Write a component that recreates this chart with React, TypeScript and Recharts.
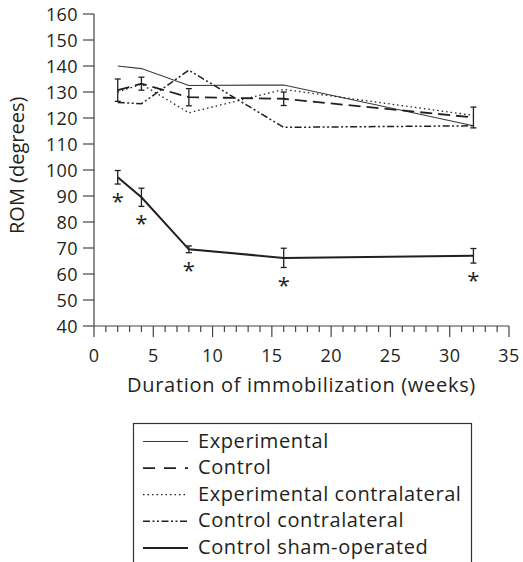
import React from "react";
import {
  LineChart,
  Line,
  XAxis,
  YAxis,
  ErrorBar,
  LabelList,
} from "recharts";

const weeks = [2, 4, 8, 16, 32];
const experimental = [140, 139, 132.5, 132.7, 117];
const control = [130.7, 133.2, 128, 127.4, 120.2];
const controlErr = [4.3, 2.5, 3.3, 2.6, 4];
const expContra = [130, 133, 122, 131, 121];
const ctrlContra = [126, 125.5, 138.4, 116.4, 117];
const sham = [97.2, 89.5, 69.5, 66.2, 67];
const shamErr = [2.6, 3.5, 1.3, 3.7, 2.8];

const yTicks = [40, 50, 60, 70, 80, 90, 100, 110, 120, 130, 140, 150, 160];
const xTicks = Array.from({ length: 36 }, (_, i) => i);

const FONT = "'Open Sans', sans-serif";
const INK = "#231f20";

const data = weeks.map((w, i) => ({
  week: w,
  experimental: experimental[i],
  control: control[i],
  controlErr: controlErr[i],
  expContra: expContra[i],
  ctrlContra: ctrlContra[i],
  sham: sham[i],
  shamErr: shamErr[i],
  shamLow: sham[i] - shamErr[i],
}));

const series = [
  { key: "experimental", name: "Experimental", width: 1.1, dash: undefined, color: "#3a3a3a" },
  { key: "control", name: "Control", width: 1.8, dash: "12 6", color: INK },
  { key: "expContra", name: "Experimental contralateral", width: 1.3, dash: "1.5 3", color: INK },
  { key: "ctrlContra", name: "Control contralateral", width: 1.5, dash: "7 2.5 2 2.5 2 2.5", color: INK },
  { key: "sham", name: "Control sham-operated", width: 2, dash: undefined, color: INK },
];

const XTick = (props: any) => {
  const { x, y, payload } = props;
  const v = payload.value;
  const major = v % 5 === 0;
  return (
    <g>
      <line x1={x} x2={x} y1={y} y2={y + (major ? 11 : 6)} stroke="#444" strokeWidth={1.2} />
      {major && (
        <text x={x} y={y + 36} textAnchor="middle" fontSize={18} letterSpacing={0.4} fontFamily={FONT} fill={INK}>
          {v}
        </text>
      )}
    </g>
  );
};

const YTick = (props: any) => {
  const { x, y, payload } = props;
  return (
    <text x={x} y={y + 6.5} textAnchor="end" fontSize={18} letterSpacing={0.4} fontFamily={FONT} fill={INK}>
      {payload.value}
    </text>
  );
};

const Star = (props: any) => {
  const { x, y } = props;
  return (
    <text x={x} y={y + 25} textAnchor="middle" fontSize={22} fontFamily={FONT} fill={INK}>
      *
    </text>
  );
};

function LegendBox() {
  return (
    <svg width={523} height={562} style={{ position: "absolute", left: 0, top: 0, pointerEvents: "none" }}>
      <rect x={133.5} y={423.5} width={338} height={170} fill="none" stroke="#333" strokeWidth={1.2} />
      {series.map((s, i) => {
        const base = 447.5 + i * 26.6;
        return (
          <g key={s.key}>
            <line
              x1={143}
              x2={188}
              y1={base - 6}
              y2={base - 6}
              stroke={s.color}
              strokeWidth={s.width}
              strokeDasharray={s.key === "control" ? "12 9" : s.dash}
            />
            <text x={198} y={base} fontSize={20} letterSpacing={0.6} fontFamily={FONT} fill={INK}>
              {s.name}
            </text>
          </g>
        );
      })}
    </svg>
  );
}

export default function App() {
  return (
    <div style={{ position: "absolute", left: 0, top: 0, width: 523, height: 562, overflow: "hidden", background: "#fff" }}>
      <LineChart width={523} height={562} data={data} margin={{ top: 14, right: 14, left: 0, bottom: 176 }}>
        <XAxis
          dataKey="week"
          type="number"
          domain={[0, 35]}
          ticks={xTicks}
          interval={0}
          tickSize={0}
          tickMargin={0}
          tickLine={false}
          tick={<XTick />}
          stroke="#444"
          strokeWidth={1.2}
          height={60}
          label={{
            value: "Duration of immobilization (weeks)",
            position: "insideBottom",
            offset: 0,
            dy: 6,
            fontSize: 20,
            letterSpacing: 0.7,
            fontFamily: FONT,
            fill: INK,
          }}
        />
        <YAxis
          type="number"
          domain={[40, 160]}
          ticks={yTicks}
          interval={0}
          width={94}
          tickSize={11}
          tickMargin={5}
          tick={<YTick />}
          allowDataOverflow
          stroke="#444"
          strokeWidth={1.2}
          label={{
            value: "ROM (degrees)",
            angle: -90,
            position: "insideLeft",
            dx: 12,
            dy: 64,
            fontSize: 20,
            fontFamily: FONT,
            fill: INK,
          }}
        />
        {series.map((s) => (
          <Line
            key={s.key}
            dataKey={s.key}
            name={s.name}
            type="linear"
            stroke={s.color}
            strokeWidth={s.width}
            strokeDasharray={s.dash}
            dot={false}
            activeDot={false}
            isAnimationActive={false}
          >
            {s.key === "control" && (
              <ErrorBar dataKey="controlErr" direction="y" width={3} stroke={INK} strokeWidth={1.3} />
            )}
            {s.key === "sham" && (
              <ErrorBar dataKey="shamErr" direction="y" width={3} stroke={INK} strokeWidth={1.3} />
            )}
          </Line>
        ))}
        <Line
          dataKey="shamLow"
          stroke="none"
          dot={false}
          activeDot={false}
          legendType="none"
          isAnimationActive={false}
        >
          <LabelList dataKey="shamLow" content={<Star />} />
        </Line>
      </LineChart>
      <LegendBox />
    </div>
  );
}
